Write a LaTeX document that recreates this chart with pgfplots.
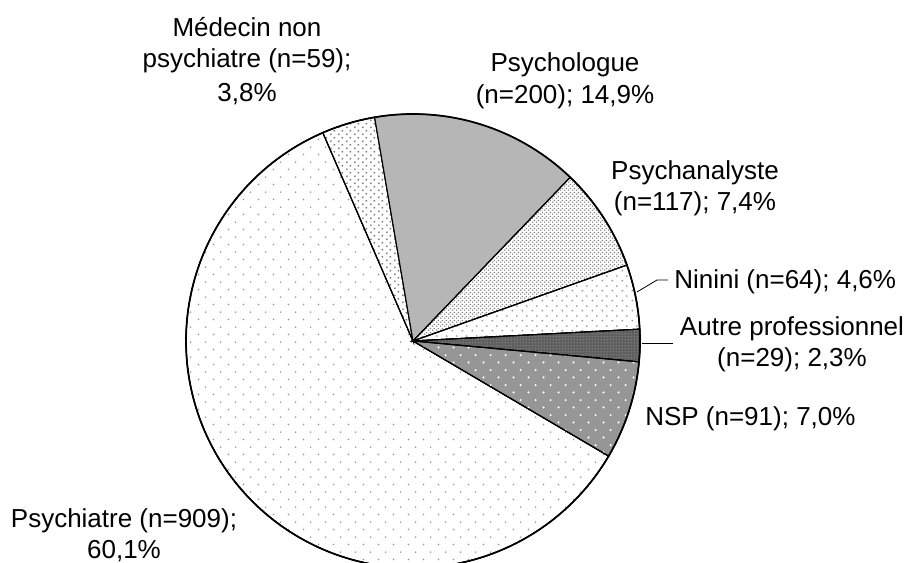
\documentclass[border=0pt]{standalone}
\usepackage{pgfplots}
\pgfplotsset{compat=1.18}
\usepackage{fontspec}
\setmainfont{Liberation Sans}
\usetikzlibrary{patterns}

% 1px = 0.75pt
\pgfdeclarepatternformonly{pA}{\pgfqpoint{0pt}{0pt}}{\pgfqpoint{11.25pt}{11.4pt}}{\pgfqpoint{11.25pt}{11.4pt}}{%
  \pgfpathcircle{\pgfqpoint{2.8pt}{2.85pt}}{0.7pt}%
  \pgfpathcircle{\pgfqpoint{8.425pt}{8.55pt}}{0.7pt}%
  \pgfusepath{fill}}
\pgfdeclarepatternformonly{pB}{\pgfqpoint{0pt}{0pt}}{\pgfqpoint{5.6pt}{5.6pt}}{\pgfqpoint{5.6pt}{5.6pt}}{%
  \pgfpathcircle{\pgfqpoint{1.4pt}{1.4pt}}{0.8pt}%
  \pgfpathcircle{\pgfqpoint{4.2pt}{4.2pt}}{0.8pt}%
  \pgfusepath{fill}}
\pgfdeclarepatternformonly{pC}{\pgfqpoint{0pt}{0pt}}{\pgfqpoint{3pt}{3pt}}{\pgfqpoint{3pt}{3pt}}{%
  \pgfpathcircle{\pgfqpoint{0.75pt}{0.75pt}}{0.7pt}%
  \pgfpathcircle{\pgfqpoint{2.25pt}{2.25pt}}{0.7pt}%
  \pgfusepath{fill}}
\pgfdeclarepatternformonly{pD}{\pgfqpoint{0pt}{0pt}}{\pgfqpoint{7.5pt}{7.5pt}}{\pgfqpoint{7.5pt}{7.5pt}}{%
  \pgfpathcircle{\pgfqpoint{1.875pt}{1.875pt}}{0.8pt}%
  \pgfpathcircle{\pgfqpoint{5.625pt}{5.625pt}}{0.8pt}%
  \pgfusepath{fill}}
\pgfdeclarepatternformonly{pE}{\pgfqpoint{0pt}{0pt}}{\pgfqpoint{2.25pt}{2.25pt}}{\pgfqpoint{2.25pt}{2.25pt}}{%
  \pgfpathcircle{\pgfqpoint{1.125pt}{1.125pt}}{0.45pt}%
  \pgfusepath{fill}}
\pgfdeclarepatternformonly{pF}{\pgfqpoint{0pt}{0pt}}{\pgfqpoint{11.25pt}{11.4pt}}{\pgfqpoint{11.25pt}{11.4pt}}{%
  \pgfpathcircle{\pgfqpoint{2.8pt}{2.85pt}}{0.9pt}%
  \pgfpathcircle{\pgfqpoint{8.425pt}{8.55pt}}{0.9pt}%
  \pgfusepath{fill}}

\definecolor{dotgray}{RGB}{150,150,150}
\definecolor{dotdark}{RGB}{125,125,125}
\definecolor{psyg}{RGB}{182,182,182}
\definecolor{autreg}{RGB}{95,95,95}
\definecolor{nspg}{RGB}{150,150,150}

% slice shares (%) in clockwise order, starting at the upper left
\pgfmathsetmacro{\k}{360/100.1}
\pgfmathsetmacro{\aA}{113.4}
\pgfmathsetmacro{\aB}{\aA-3.8*\k}   % Medecin non psychiatre
\pgfmathsetmacro{\aC}{\aB-14.9*\k}  % Psychologue
\pgfmathsetmacro{\aD}{\aC-7.4*\k}   % Psychanalyste
\pgfmathsetmacro{\aE}{\aD-4.6*\k}   % Ninini
\pgfmathsetmacro{\aF}{\aE-2.3*\k}   % Autre professionnel
\pgfmathsetmacro{\aG}{\aF-7.0*\k}   % NSP
\pgfmathsetmacro{\aH}{\aG-60.1*\k}  % Psychiatre

\newcommand{\cx}{413}
\newcommand{\cy}{221}
\newcommand{\rr}{227}

\begin{document}
\begin{tikzpicture}
\fontsize{19.5}{23.6}\selectfont
\begin{axis}[hide axis, scale only axis, width=679.5pt, height=421.5pt,
  xmin=0, xmax=906, ymin=0, ymax=562, clip=true]
\pgfplotsset{wedge/.style={draw=black, line width=0.8pt, samples=90, variable=\t}}
% Psychiatre
\addplot[wedge, fill=white, postaction={pattern=pA, pattern color=dotgray}, domain=\aH:\aG]
  ({\cx+\rr*cos(\t)}, {\cy+\rr*sin(\t)}) -- (axis cs:\cx,\cy) -- cycle;
% Medecin non psychiatre
\addplot[wedge, fill=white, postaction={pattern=pB, pattern color=dotdark}, domain=\aB:\aA]
  ({\cx+\rr*cos(\t)}, {\cy+\rr*sin(\t)}) -- (axis cs:\cx,\cy) -- cycle;
% Psychologue
\addplot[wedge, fill=psyg, domain=\aC:\aB]
  ({\cx+\rr*cos(\t)}, {\cy+\rr*sin(\t)}) -- (axis cs:\cx,\cy) -- cycle;
% Psychanalyste
\addplot[wedge, fill=white, postaction={pattern=pC, pattern color=dotdark}, domain=\aD:\aC]
  ({\cx+\rr*cos(\t)}, {\cy+\rr*sin(\t)}) -- (axis cs:\cx,\cy) -- cycle;
% Ninini
\addplot[wedge, fill=white, postaction={pattern=pD, pattern color=dotgray}, domain=\aE:\aD]
  ({\cx+\rr*cos(\t)}, {\cy+\rr*sin(\t)}) -- (axis cs:\cx,\cy) -- cycle;
% Autre professionnel
\addplot[wedge, fill=autreg, postaction={pattern=pE, pattern color=white!85!black}, domain=\aF:\aE]
  ({\cx+\rr*cos(\t)}, {\cy+\rr*sin(\t)}) -- (axis cs:\cx,\cy) -- cycle;
% NSP
\addplot[wedge, fill=nspg, postaction={pattern=pF, pattern color=white}, domain=\aG:\aF]
  ({\cx+\rr*cos(\t)}, {\cy+\rr*sin(\t)}) -- (axis cs:\cx,\cy) -- cycle;
% outer rim
\addplot[draw=black, line width=1.3pt, samples=240, variable=\t, domain=0:360]
  ({\cx+\rr*cos(\t)}, {\cy+\rr*sin(\t)});

% leader lines
\draw[black, line width=0.6pt] (axis cs:637,270) -- (axis cs:657,282) -- (axis cs:668,282);
\draw[black, line width=0.6pt] (axis cs:642,219) -- (axis cs:673,219);

% labels
\tikzset{lab/.style={inner sep=0pt, anchor=base}}
\node[lab] at (axis cs:247,525) {Médecin non};
\node[lab] at (axis cs:247,494) {psychiatre (n=59);};
\node[lab] at (axis cs:247,461) {3,8\%};
\node[lab] at (axis cs:565,490) {Psychologue};
\node[lab] at (axis cs:565,459) {(n=200); 14,9\%};
\node[lab] at (axis cs:695,383) {Psychanalyste};
\node[lab] at (axis cs:695,352) {(n=117); 7,4\%};
\node[lab, anchor=base west] at (axis cs:674,274) {Ninini (n=64); 4,6\%};
\node[lab] at (axis cs:792,227) {Autre professionnel};
\node[lab] at (axis cs:792,196) {(n=29); 2,3\%};
\node[lab, anchor=base west] at (axis cs:645,137) {NSP (n=91); 7,0\%};
\node[lab] at (axis cs:124,35) {Psychiatre (n=909);};
\node[lab] at (axis cs:124,4) {60,1\%};
\end{axis}
\pgfresetboundingbox
\useasboundingbox (current axis.south west) rectangle (current axis.north east);
\end{tikzpicture}
\end{document}
